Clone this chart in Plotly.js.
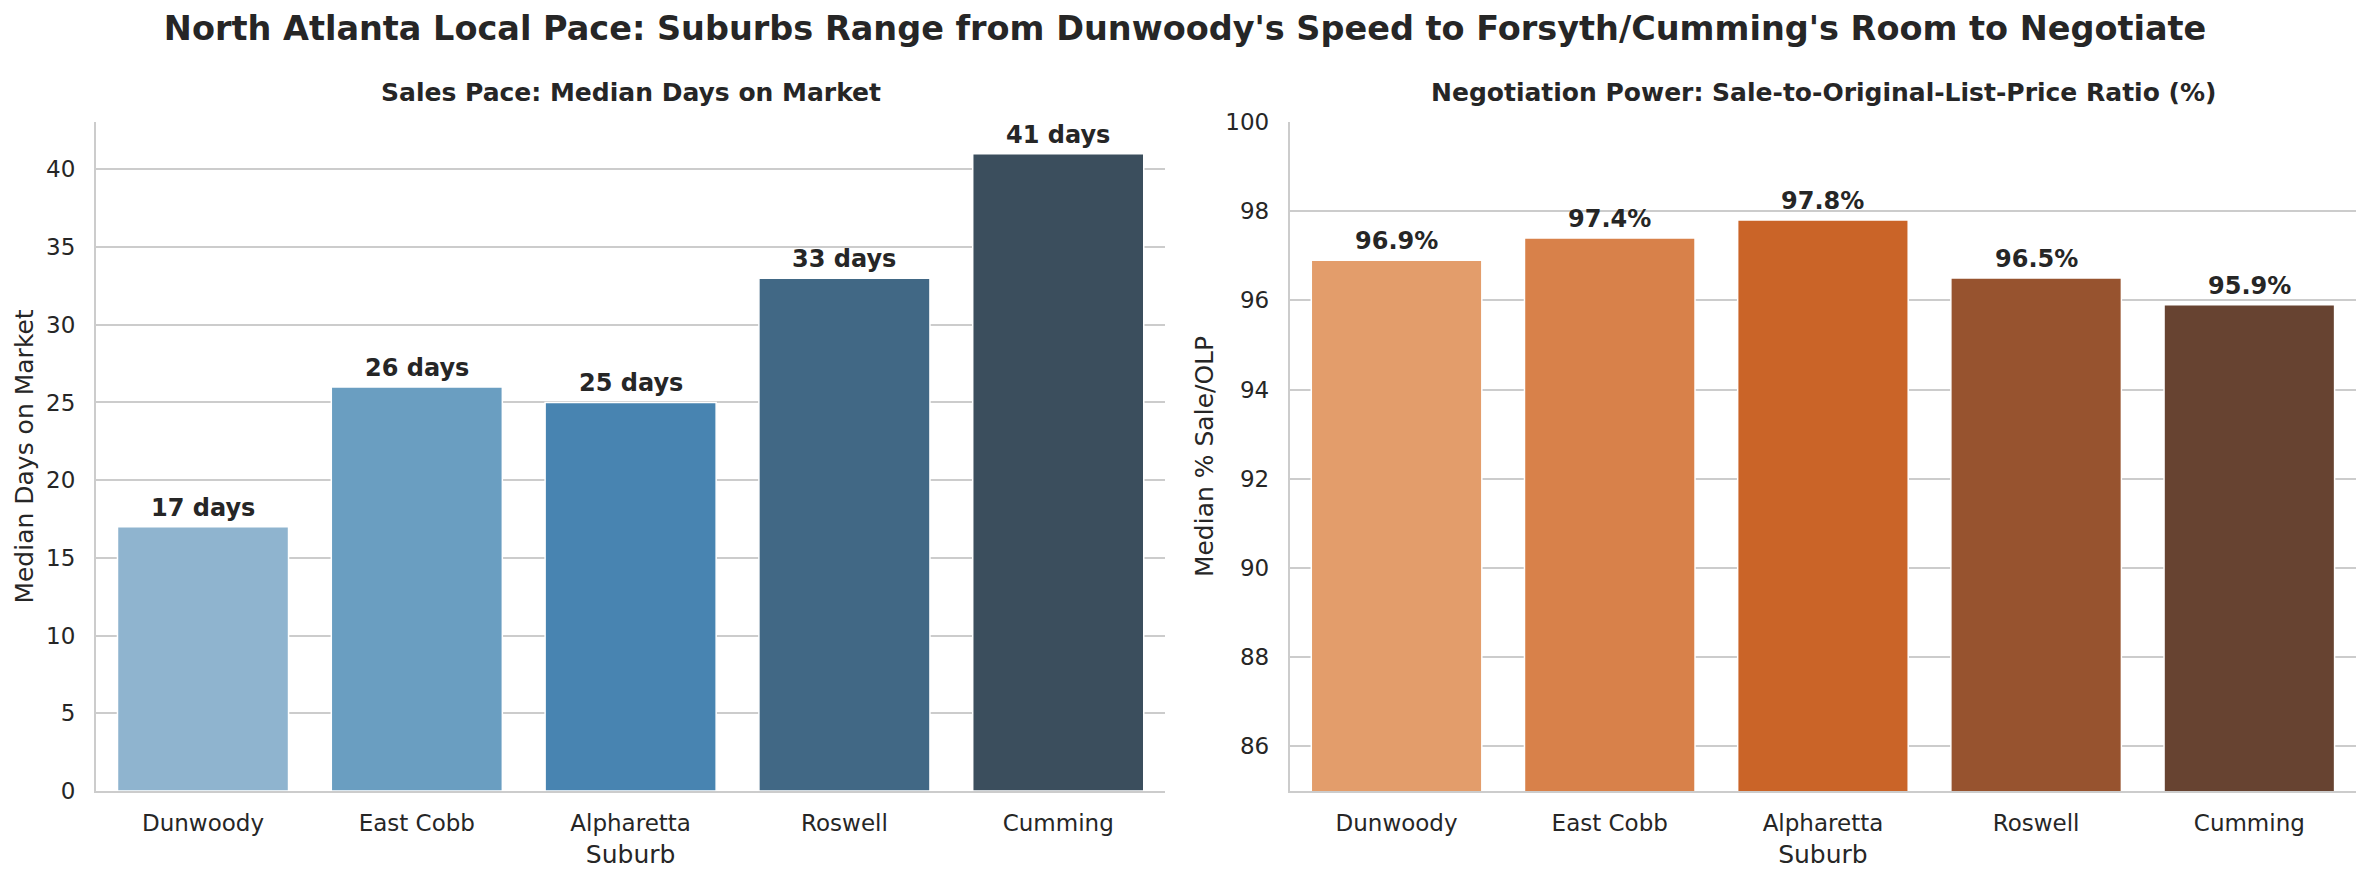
<!DOCTYPE html>
<html>
<head>
<meta charset="utf-8">
<script src="https://cdn.plot.ly/plotly-3.0.1.min.js"></script>
<style>
  body { margin: 0; background: #fff; }
  #chart { width: 2373px; height: 882px; }
</style>
</head>
<body>
<div id="chart"></div>
<script>
// data
const suburbs = ["Dunwoody", "East Cobb", "Alpharetta", "Roswell", "Cumming"];
const daysOnMarket = [17, 26, 25, 33, 41];
const saleToListPct = [96.9, 97.4, 97.8, 96.5, 95.9];
const blueColors = ["#8fb4cf", "#6a9ec1", "#4884b1", "#416885", "#3b4e5d"];
const orangeColors = ["#e39d6b", "#d8814a", "#ca6428", "#97532f", "#674331"];

const textColor = "#262626";
const gridColor = "#cccccc";
const font = "DejaVu Sans, Verdana, sans-serif";

function barTrace(y, colors, xa, ya) {
    return {
        x: suburbs, y: y, type: "bar", xaxis: xa, yaxis: ya,
        width: 0.8,
        marker: { color: colors, line: { color: "#ffffff", width: 1.5 } },
        hoverinfo: "x+y", showlegend: false
    };
}

function valueLabels(y, fmt, xref, yref) {
    let out = [];
    for (let i = 0; i < y.length; i++) {
        out.push({
            x: suburbs[i], y: y[i], xref: xref, yref: yref,
            text: fmt(y[i]), showarrow: false,
            yanchor: "bottom", yshift: 3,
            font: { family: font, size: 24, color: textColor, weight: "bold" }
        });
    }
    return out;
}

function yAxis(range, tick0, dtick, title, anchor) {
    return {
        domain: [0.1032, 0.8617], anchor: anchor, range: range,
        tick0: tick0, dtick: dtick, tickmode: "linear",
        showgrid: true, gridcolor: gridColor, gridwidth: 2,
        zeroline: false, showline: true, linecolor: gridColor, linewidth: 2.2,
        ticks: "", ticklabelstandoff: 14,
        tickfont: { family: font, size: 23, color: textColor },
        title: { text: title, standoff: 5, font: { family: font, size: 25, color: textColor } },
        fixedrange: true
    };
}

function xAxis(domain, anchor) {
    return {
        domain: domain, anchor: anchor, range: [-0.5, 4.5],
        showgrid: false, zeroline: false, showline: true,
        linecolor: gridColor, linewidth: 2.2, ticks: "", ticklabelstandoff: 10,
        tickfont: { family: font, size: 23, color: textColor },
        title: { text: "Suburb", standoff: 11, font: { family: font, size: 25, color: textColor } },
        fixedrange: true
    };
}

const data = [
    barTrace(daysOnMarket, blueColors, "x", "y"),
    barTrace(saleToListPct, orangeColors, "x2", "y2")
];

const subTitle = (text, x) => ({
    text: text, x: x, y: 0.8946, xref: "paper", yref: "paper",
    xanchor: "center", yanchor: "middle", showarrow: false,
    font: { family: font, size: 25, color: textColor, weight: "bold" }
});

const annotations = []
    .concat(valueLabels(daysOnMarket, v => v + " days", "x", "y"))
    .concat(valueLabels(saleToListPct, v => v.toFixed(1) + "%", "x2", "y2"))
    .concat([
        subTitle("Sales Pace: Median Days on Market", 0.2657),
        subTitle("Negotiation Power: Sale-to-Original-List-Price Ratio (%)", 0.7683)
    ]);

const layout = {
    width: 2373, height: 882,
    margin: { l: 0, r: 0, t: 0, b: 0 },
    paper_bgcolor: "#ffffff", plot_bgcolor: "#ffffff",
    title: {
        text: "North Atlanta Local Pace: Suburbs Range from Dunwoody's Speed to Forsyth/Cumming's Room to Negotiate",
        x: 0.4994, xanchor: "center", y: 0.968, yanchor: "middle",
        font: { family: font, size: 33.5, color: textColor, weight: "bold" }
    },
    xaxis: xAxis([0.0405, 0.491], "y"),
    yaxis: yAxis([0, 43.05], 0, 5, "Median Days on Market", "x"),
    xaxis2: xAxis([0.5436, 0.9928], "y2"),
    yaxis2: yAxis([85, 100], 86, 2, "Median % Sale/OLP", "x2"),
    annotations: annotations,
    bargap: 0.2
};

Plotly.newPlot("chart", data, layout, { displayModeBar: false, staticPlot: true });
</script>
</body>
</html>
